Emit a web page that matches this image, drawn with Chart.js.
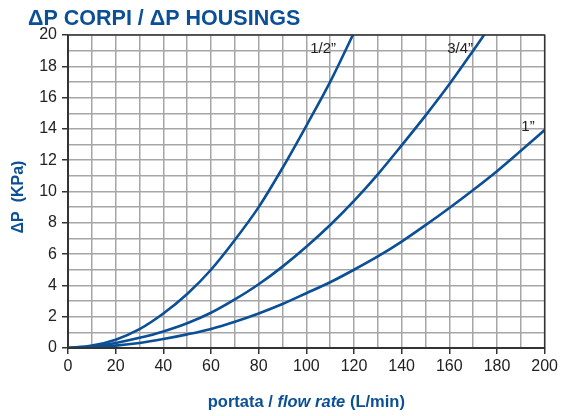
<!DOCTYPE html>
<html>
<head>
<meta charset="utf-8">
<script src="https://cdn.jsdelivr.net/npm/chart.js@4/dist/chart.umd.min.js"></script>
<style>
  html, body { margin: 0; padding: 0; background: #fff; }
  #wrap { width: 561px; height: 416px; position: relative; }
</style>
</head>
<body>
<div id="wrap"><canvas id="dp-chart"></canvas></div>
<script>
// values (flow in L/min, pressure drop in kPa)
const flowHalf = [0, 10, 20, 30, 40, 50, 60, 70, 80, 90, 100, 110, 120];
const dpHalf   = [0, 0.15, 0.53, 1.2, 2.2, 3.45, 5.0, 6.9, 9.0, 11.5, 14.2, 17.0, 20.15];

const flowThreeQ = [0, 10, 20, 30, 40, 50, 60, 70, 80, 90, 100, 110, 120, 130, 140, 150, 160, 170, 175];
const dpThreeQ   = [0, 0.08, 0.32, 0.65, 1.06, 1.58, 2.25, 3.1, 4.07, 5.2, 6.47, 7.86, 9.4, 11.1, 12.95, 14.85, 16.85, 19.0, 20.1];

const flowOne = [0, 10, 20, 30, 40, 50, 60, 70, 80, 90, 100, 110, 120, 130, 140, 150, 160, 170, 180, 190, 200];
const dpOne   = [0, 0.04, 0.15, 0.32, 0.57, 0.87, 1.22, 1.68, 2.21, 2.81, 3.5, 4.2, 5.0, 5.85, 6.8, 7.85, 8.95, 10.1, 11.3, 12.6, 13.93];

const seriesNames = ['1/2\u201D', '3/4\u201D', '1\u201D'];
const xTicks = [0, 20, 40, 60, 80, 100, 120, 140, 160, 180, 200];
const yTicks = [0, 2, 4, 6, 8, 10, 12, 14, 16, 18, 20];

const BLUE = '#0b4f96';
const FONT = '"Liberation Sans", Arial, sans-serif';

const pts = (xs, ys) => xs.map((x, i) => ({ x, y: ys[i] }));

// curve name placement relative to where each curve leaves the plot (dx, dy in px)
const labelOffsets = [[-18, 18], [-12, 18], [-10, 1]];

const decor = {
  id: 'decor',
  afterDatasetsDraw(chart) {
    const { ctx, chartArea: a, scales: { x, y } } = chart;
    ctx.save();
    // frame
    ctx.strokeStyle = '#333';
    ctx.lineWidth = 1.5;
    ctx.strokeRect(a.left, a.top, a.right - a.left, a.bottom - a.top);
    ctx.lineWidth = 2;
    ctx.beginPath();
    ctx.moveTo(a.left, a.top); ctx.lineTo(a.left, a.bottom); ctx.lineTo(a.right, a.bottom);
    ctx.stroke();

    // curve names
    ctx.fillStyle = '#222';
    ctx.font = '15px ' + FONT;
    ctx.textAlign = 'right';
    ctx.textBaseline = 'alphabetic';
    chart.data.datasets.forEach((ds, i) => {
      const last = ds.data[ds.data.length - 1];
      const px = x.getPixelForValue(last.x);
      const py = y.getPixelForValue(Math.min(last.y, y.max));
      ctx.fillText(ds.label, px + labelOffsets[i][0], py + labelOffsets[i][1]);
    });

    // title
    ctx.fillStyle = BLUE;
    ctx.textAlign = 'left';
    ctx.font = 'bold 21.5px ' + FONT;
    ctx.fillText('\u0394P CORPI / \u0394P HOUSINGS', 28, 25);

    // y axis title
    ctx.save();
    ctx.translate(19, 197);
    ctx.rotate(-Math.PI / 2);
    ctx.textAlign = 'center';
    ctx.textBaseline = 'middle';
    ctx.font = 'bold 16px ' + FONT;
    ctx.fillText('\u0394P  (KPa)', 0, 0);
    ctx.restore();

    // x axis title, mixed upright / italic
    const parts = [
      ['bold 16.5px ' + FONT, 'portata / '],
      ['italic bold 16.5px ' + FONT, 'flow rate'],
      ['bold 16.5px ' + FONT, ' (L/min)']
    ];
    let total = 0;
    parts.forEach(p => { ctx.font = p[0]; total += ctx.measureText(p[1]).width; });
    let cx = (a.left + a.right) / 2 - total / 2;
    parts.forEach(p => {
      ctx.font = p[0];
      ctx.fillText(p[1], cx, 407);
      cx += ctx.measureText(p[1]).width;
    });
    ctx.restore();
  }
};

const mkLine = (label, data) => ({
  label, data,
  borderColor: BLUE,
  borderWidth: 2.6,
  pointRadius: 0,
  fill: false,
  cubicInterpolationMode: 'monotone'
});

new Chart(document.getElementById('dp-chart'), {
  type: 'line',
  data: {
    datasets: [
      mkLine(seriesNames[0], pts(flowHalf, dpHalf)),
      mkLine(seriesNames[1], pts(flowThreeQ, dpThreeQ)),
      mkLine(seriesNames[2], pts(flowOne, dpOne))
    ]
  },
  options: {
    responsive: true,
    maintainAspectRatio: false,
    animation: false,
    layout: { padding: { top: 35, right: 16, left: 0, bottom: 0 } },
    plugins: { legend: { display: false }, tooltip: { enabled: false } },
    scales: {
      x: {
        type: 'linear', min: 0, max: 200,
        afterFit: s => { s.height = 68; },
        grid: {
          color: '#a6a6a6', lineWidth: 1.5, tickLength: 6, tickWidth: 1.5,
          tickColor: c => (c.tick && xTicks.includes(c.tick.value)) ? '#333' : 'rgba(0,0,0,0)'
        },
        border: { display: false },
        ticks: {
          stepSize: 10, autoSkip: false, maxRotation: 0, padding: 3,
          color: '#222', font: { family: FONT, size: 16 },
          callback: v => xTicks.includes(v) ? String(v) : ''
        }
      },
      y: {
        type: 'linear', min: 0, max: 20,
        afterFit: s => { s.width = 68; },
        grid: {
          color: '#a6a6a6', lineWidth: 1.5, tickLength: 6, tickWidth: 1.5,
          tickColor: c => (c.tick && yTicks.includes(c.tick.value)) ? '#333' : 'rgba(0,0,0,0)'
        },
        border: { display: false },
        ticks: {
          stepSize: 1, autoSkip: false, padding: 5,
          color: '#222', font: { family: FONT, size: 16 },
          callback: v => yTicks.includes(v) ? String(v) : ''
        }
      }
    }
  },
  plugins: [decor]
});
</script>
</body>
</html>
